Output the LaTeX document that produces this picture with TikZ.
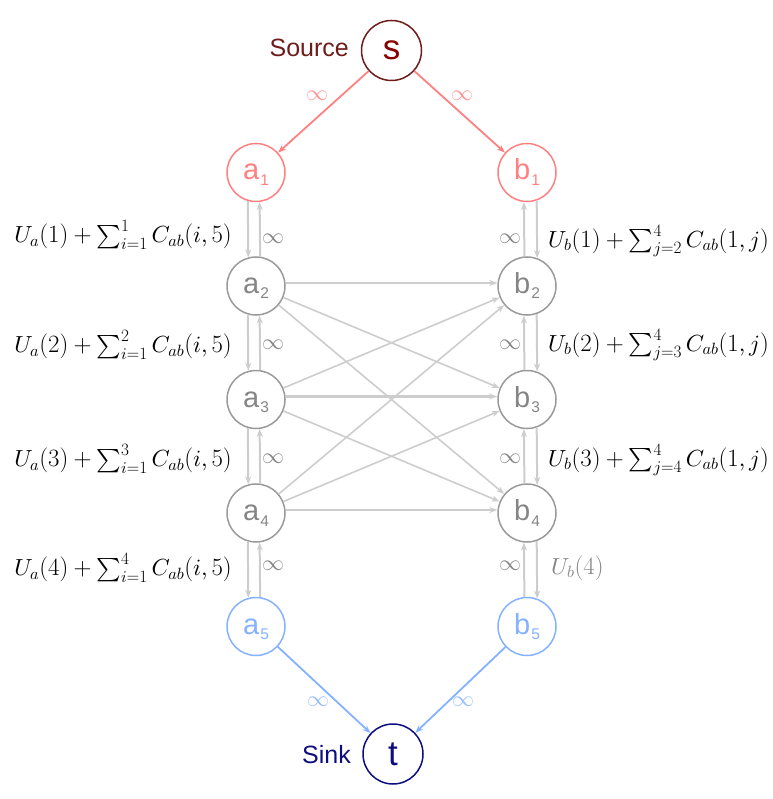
\documentclass[tikz,border=0pt]{standalone}
\usepackage{fontspec}
\DeclareFontFamily{OMX}{cmex}{}
\DeclareFontShape{OMX}{cmex}{m}{n}{<-> cmex10}{}
\DeclareFontFamily{OML}{cmm}{\skewchar\font'177}
\DeclareFontShape{OML}{cmm}{m}{it}{<-> cmmi10}{}
\DeclareFontFamily{OMS}{cmsy}{\skewchar\font'60}
\DeclareFontShape{OMS}{cmsy}{m}{n}{<-> cmsy10}{}
\newfontfamily\arial{Liberation Sans}
\usetikzlibrary{arrows.meta}
\definecolor{srcred}{HTML}{6E1C1C}
\definecolor{stext}{HTML}{850000}
\definecolor{pinkc}{HTML}{FF8080}
\definecolor{grayn}{HTML}{9A9A9A}
\definecolor{grayt}{HTML}{858585}
\definecolor{edgeg}{HTML}{CDCDCD}
\definecolor{bluec}{HTML}{85B2FF}
\definecolor{navy}{HTML}{0D0D80}
\newcommand\vlab[2]{#1\kern1pt\raisebox{-5.5pt}{\fontsize{15.5}{15.5}\selectfont #2}}
\tikzset{
  vtx/.style={circle, draw, line width=1.5pt, minimum size=58pt, inner sep=0pt,
    text height=20pt, text depth=5pt, font=\arial\fontsize{29}{29}\selectfont},
  bigvtx/.style={circle, draw, line width=1.5pt, minimum size=60pt, inner sep=0pt,
    font=\arial\fontsize{35}{35}\selectfont},
  tip/.style={-{Stealth[length=8pt,width=6pt]}},
  vline/.style={tip, draw=edgeg, line width=2pt},
  xline/.style={tip, draw=edgeg, line width=1.6pt},
  hline/.style={tip, draw=edgeg, line width=2.4pt},
  redline/.style={tip, draw=pinkc, line width=1.8pt},
  blueline/.style={tip, draw=bluec, line width=1.8pt},
  mlab/.style={inner sep=0pt, font=\fontsize{23.3}{27}\selectfont},
  inflab/.style={inner sep=0pt, text=grayt, font=\fontsize{22}{26}\selectfont},
}
\begin{document}
\begin{tikzpicture}[x=1pt, y=-1pt]
\useasboundingbox (0,0) rectangle (772,799);
% source and sink
\node[bigvtx, draw=srcred, text=stext] (s) at (391.5,50.5) {s};
\node[bigvtx, draw=navy, text=navy] (t) at (393,754) {t};
\node[anchor=base east, inner sep=0pt, text=srcred, font=\arial\fontsize{25}{25}\selectfont] (srclab) at (349,57) {Source};
\node[anchor=base east, inner sep=0pt, text=navy, font=\arial\fontsize{25}{25}\selectfont] (sinklab) at (351,763) {Sink};
% columns
\node[vtx, draw=pinkc, text=pinkc] (a1) at (256,172.5) {\vlab{a}{1}};
\node[vtx, draw=pinkc, text=pinkc] (b1) at (527,172.5) {\vlab{b}{1}};
\node[vtx, draw=grayn, text=grayt] (a2) at (256,286) {\vlab{a}{2}};
\node[vtx, draw=grayn, text=grayt] (b2) at (527,286) {\vlab{b}{2}};
\node[vtx, draw=grayn, text=grayt] (a3) at (256,399.5) {\vlab{a}{3}};
\node[vtx, draw=grayn, text=grayt] (b3) at (527,399.5) {\vlab{b}{3}};
\node[vtx, draw=grayn, text=grayt] (a4) at (256,513) {\vlab{a}{4}};
\node[vtx, draw=grayn, text=grayt] (b4) at (527,513) {\vlab{b}{4}};
\node[vtx, draw=bluec, text=bluec] (a5) at (256,626.5) {\vlab{a}{5}};
\node[vtx, draw=bluec, text=bluec] (b5) at (527,626.5) {\vlab{b}{5}};
% source / sink edges
\draw[redline] (s) -- (a1);
\draw[redline] (s) -- (b1);
\draw[blueline] (a5) -- (t);
\draw[blueline] (b5) -- (t);
\node[inflab, text=pinkc!85] (inf-sa) at (317,96) {$\infty$};
\node[inflab, text=pinkc!85] (inf-sb) at (462,96) {$\infty$};
\node[inflab, text=bluec!85] (inf-at) at (318,702) {$\infty$};
\node[inflab, text=bluec!85] (inf-bt) at (463,702) {$\infty$};
% vertical pairs
\foreach \i/\j in {1/2,2/3,3/4,4/5}{
  \draw[vline] (a\i.254.3) -- (a\j.105.7);
  \draw[vline] (a\j.82.2) -- (a\i.277.8);
  \draw[vline] (b\j.95.8) -- (b\i.264.2);
  \draw[vline] (b\i.289.8) -- (b\j.70.2);
}
% cross edges
\foreach \i in {2,3,4}{
  \draw[hline] ([yshift=3pt]a\i.east) -- ([yshift=3pt]b\i.west);
  \foreach \j in {2,3,4}{
    \ifnum\i=\j\else\draw[xline] (a\i) -- (b\j);\fi
  }
}
% infinity labels on verticals
\node[inflab] (ia1) at (273,239) {$\infty$};
\node[inflab] (ia2) at (273,345) {$\infty$};
\node[inflab] (ia3) at (273,459) {$\infty$};
\node[inflab] (ia4) at (273,566) {$\infty$};
\node[inflab] (ib1) at (510,239) {$\infty$};
\node[inflab] (ib2) at (510,345) {$\infty$};
\node[inflab] (ib3) at (510,459) {$\infty$};
\node[inflab] (ib4) at (510,566) {$\infty$};
% capacity labels
\node[mlab, anchor=east] (la1) at (232,235) {$U_a(1)+\sum_{i=1}^{1}C_{ab}(i,5)$};
\node[mlab, anchor=east] (la2) at (232,345) {$U_a(2)+\sum_{i=1}^{2}C_{ab}(i,5)$};
\node[mlab, anchor=east] (la3) at (232,459) {$U_a(3)+\sum_{i=1}^{3}C_{ab}(i,5)$};
\node[mlab, anchor=east] (la4) at (232,568) {$U_a(4)+\sum_{i=1}^{4}C_{ab}(i,5)$};
\node[mlab, anchor=west] (lb1) at (548,241) {$U_b(1)+\sum_{j=2}^{4}C_{ab}(1,j)$};
\node[mlab, anchor=west] (lb2) at (548,345) {$U_b(2)+\sum_{j=3}^{4}C_{ab}(1,j)$};
\node[mlab, anchor=west] (lb3) at (548,460) {$U_b(3)+\sum_{j=4}^{4}C_{ab}(1,j)$};
\node[mlab, anchor=west, text=grayt] (lb4) at (551,568) {$U_b(4)$};
\end{tikzpicture}
\end{document}
